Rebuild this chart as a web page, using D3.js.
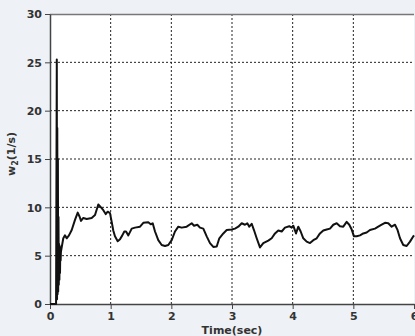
<!DOCTYPE html>
<html>
<head>
<meta charset="utf-8">
<script src="https://cdn.jsdelivr.net/npm/d3@7"></script>
<style>
  html, body { margin: 0; padding: 0; background: #eef1f6; }
  svg { display: block; }
  text { font-family: "DejaVu Sans", Verdana, sans-serif; }
</style>
</head>
<body>
<svg id="chart" width="415" height="336"></svg>
<script>
// Rotor speed w2 over time (s)
const timeSec = [
  0, 0.100, 0.112, 0.116, 0.120, 0.125, 0.130, 0.135, 0.140, 0.145, 0.150, 0.155, 0.160, 0.165, 0.170, 0.175, 0.180,
  0.219, 0.247, 0.275, 0.313, 0.358, 0.412, 0.457, 0.490, 0.511, 0.549, 0.605, 0.687, 0.742, 0.796, 0.841, 0.879,
  0.918, 0.951, 0.989, 1.017, 1.043, 1.071, 1.116, 1.154, 1.192, 1.225, 1.253, 1.291, 1.347, 1.401, 1.484, 1.538,
  1.620, 1.660, 1.693, 1.731, 1.785, 1.841, 1.896, 1.950, 2.006, 2.060, 2.115, 2.171, 2.253, 2.336, 2.374, 2.428,
  2.472, 2.527, 2.583, 2.637, 2.692, 2.748, 2.791, 2.857, 2.913, 2.995, 3.049, 3.104, 3.160, 3.214, 3.252, 3.285,
  3.325, 3.362, 3.407, 3.461, 3.516, 3.598, 3.654, 3.709, 3.763, 3.819, 3.873, 3.944, 3.984, 4.010, 4.055, 4.093,
  4.132, 4.175, 4.231, 4.286, 4.340, 4.396, 4.450, 4.505, 4.561, 4.615, 4.670, 4.726, 4.780, 4.834, 4.890, 4.933,
  4.973, 5.011, 5.055, 5.110, 5.164, 5.220, 5.274, 5.357, 5.411, 5.467, 5.522, 5.576, 5.632, 5.687, 5.726, 5.769,
  5.823, 5.879, 5.934, 5.989, 6.000
];
const w2 = [
  0, 0, 25.3, 0.5, 18.2, 1.0, 15.0, 1.3, 9.0, 2.0, 6.2, 2.5, 6.0, 3.2, 5.8, 4.5, 5.4,
  6.8, 7.1, 6.8, 7.1, 7.65, 8.7, 9.45, 9.0, 8.6, 8.9, 8.8, 8.9, 9.2, 10.3, 10.0, 9.7,
  9.3, 9.55, 9.4, 8.5, 7.6, 7.0, 6.5, 6.7, 7.1, 7.5, 7.5, 7.1, 7.8, 7.9, 8.0, 8.4,
  8.45, 8.25, 8.35, 7.5, 6.6, 6.1, 6.0, 6.1, 6.6, 7.5, 8.0, 7.9, 8.0, 8.35, 8.1, 8.2,
  7.9, 7.8, 7.0, 6.3, 5.9, 5.95, 6.8, 7.3, 7.65, 7.7, 7.8, 8.0, 8.35, 8.2, 8.35, 8.0,
  8.3, 7.65, 6.8, 5.85, 6.3, 6.55, 6.8, 7.3, 7.6, 7.5, 7.9, 8.05, 7.9, 8.1, 7.3, 8.0,
  7.5, 6.8, 6.45, 6.3, 6.6, 6.8, 7.3, 7.6, 7.7, 7.8, 8.2, 8.35, 8.05, 8.0, 8.5, 8.2,
  7.7, 7.0, 7.0, 7.1, 7.3, 7.4, 7.65, 7.8, 8.0, 8.2, 8.4, 8.35, 8.0, 8.2, 7.7, 6.8,
  6.1, 6.0, 6.45, 7.0, 7.1
];
const xTicks = [0, 1, 2, 3, 4, 5, 6];
const yTicks = [0, 5, 10, 15, 20, 25, 30];

const margin = { top: 14, right: 1, bottom: 32, left: 50 };
const W = 415, H = 336;
const iw = W - margin.left - margin.right;
const ih = H - margin.top - margin.bottom;

const svg = d3.select("#chart");
const g = svg.append("g").attr("transform", `translate(${margin.left},${margin.top})`);

const x = d3.scaleLinear().domain([0, 6]).range([0, 364]);
const y = d3.scaleLinear().domain([0, 30]).range([ih, 0]);

// plot background
g.append("rect").attr("x", 0).attr("y", 0).attr("width", iw).attr("height", ih).attr("fill", "#ffffff");

// dotted grid
g.append("g").selectAll("line").data(xTicks.filter(d => d > 0 && d < 6)).join("line")
  .attr("x1", d => x(d)).attr("x2", d => x(d)).attr("y1", 0).attr("y2", ih)
  .attr("stroke", "#222").attr("stroke-width", 1).attr("stroke-dasharray", "2,2");
g.append("g").selectAll("line").data(yTicks.filter(d => d > 0 && d < 30)).join("line")
  .attr("x1", 0).attr("x2", iw).attr("y1", d => y(d)).attr("y2", d => y(d))
  .attr("stroke", "#222").attr("stroke-width", 1).attr("stroke-dasharray", "2,2");

// frame top
g.append("line").attr("x1", 0).attr("x2", iw).attr("y1", 0.5).attr("y2", 0.5)
  .attr("stroke", "#777").attr("stroke-width", 1.5);

// axes
const xAxis = g.append("g").attr("transform", `translate(0,${ih})`)
  .call(d3.axisBottom(x).tickValues(xTicks).tickSize(5).tickSizeOuter(0).tickFormat(d3.format("d")));
const yAxis = g.append("g")
  .call(d3.axisLeft(y).tickValues(yTicks).tickSize(5).tickSizeOuter(0).tickFormat(d3.format("d")));
[xAxis, yAxis].forEach(a => {
  a.select(".domain").attr("stroke", "#444").attr("stroke-width", 1.5);
  a.selectAll(".tick line").attr("stroke", "#444");
  a.selectAll(".tick text").attr("fill", "#333").attr("font-size", 11)
    .attr("font-weight", "bold").attr("font-family", "DejaVu Sans, sans-serif");
});
yAxis.selectAll(".tick text").attr("dy", "0.35em");

// signal
const line = d3.line().x((d, i) => x(timeSec[i])).y(d => y(d));
g.append("path").datum(w2).attr("d", line)
  .attr("fill", "none").attr("stroke", "#111").attr("stroke-width", 2)
  .attr("stroke-linejoin", "round");

// axis titles
svg.append("text").attr("x", 232).attr("y", 334).attr("text-anchor", "middle")
  .attr("font-size", 11).attr("font-weight", "bold").attr("fill", "#333").text("Time(sec)");
const yl = svg.append("text").attr("transform", "translate(15,154) rotate(-90)")
  .attr("text-anchor", "middle").attr("font-size", 11).attr("font-weight", "bold").attr("fill", "#333");
yl.append("tspan").text("w");
yl.append("tspan").attr("font-size", 8).attr("dy", 3).text("2");
yl.append("tspan").attr("dy", -3).text("(1/s)");
</script>
</body>
</html>
